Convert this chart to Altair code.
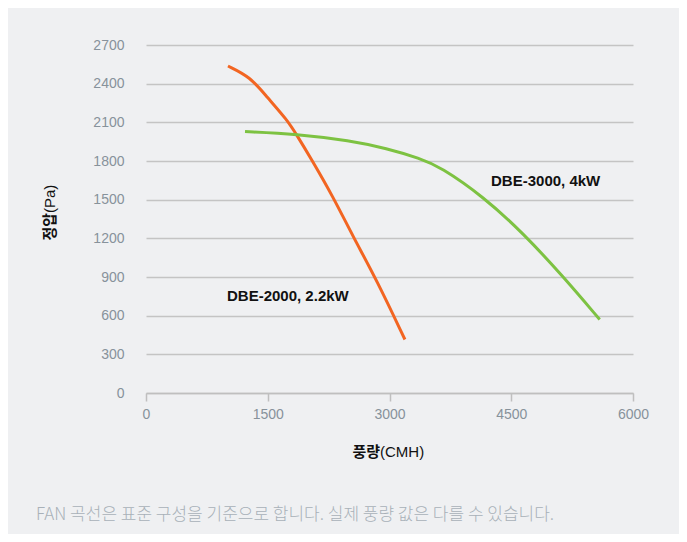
import altair as alt
import pandas as pd

# DBE-2000, 2.2kW (orange)
flow_2000 = [1010, 1281, 1487, 1741, 1857, 2020, 2304, 2550, 2842, 3190]
pres_2000 = [2537, 2454, 2299, 2118, 2002, 1833, 1524, 1214, 877, 415]
# DBE-3000, 4kW (green)
flow_3000 = [1220, 1857, 2513, 2965, 3376, 3622, 4156, 4648, 5141, 5590]
pres_3000 = [2028, 2009, 1958, 1898, 1820, 1756, 1524, 1239, 903, 570]

series_names = ["DBE-2000, 2.2kW", "DBE-3000, 4kW"]
series_colors = ["#f26522", "#7dc242"]
label_flow = [998, 4251]
label_pres = [752, 1641]

x_ticks = [0, 1500, 3000, 4500, 6000]
y_ticks = [0, 300, 600, 900, 1200, 1500, 1800, 2100, 2400, 2700]

footer = "FAN 곡선은 표준 구성을 기준으로 합니다. 실제 풍량 값은 다를 수 있습니다."

rows = []
for i, (f, p) in enumerate(zip(flow_2000, pres_2000)):
    rows.append({"series": series_names[0], "flow": f, "pressure": p, "order": i})
for i, (f, p) in enumerate(zip(flow_3000, pres_3000)):
    rows.append({"series": series_names[1], "flow": f, "pressure": p, "order": i})
df = pd.DataFrame(rows)
labels = pd.DataFrame({"series": series_names, "flow": label_flow, "pressure": label_pres})

xs = alt.Scale(domain=[0, 6000], nice=False)
ys = alt.Scale(domain=[0, 2700], nice=False)
color = alt.Scale(domain=series_names, range=series_colors)

lines = alt.Chart(df).mark_line(strokeWidth=3, interpolate="basis").encode(
    x=alt.X("flow:Q", scale=xs, axis=alt.Axis(
        values=x_ticks, tickCount=len(x_ticks) + 1, format="d", title=None, grid=False,
        domain=True, domainColor="#bfbfbf", domainWidth=1.5, ticks=True,
        tickColor="#bfbfbf", tickWidth=1.5, tickSize=8, labelPadding=6,
        labelFont="Liberation Sans", labelFontSize=14, labelColor="#87929b",
        labelOverlap=False, labelFlush=False)),
    y=alt.Y("pressure:Q", scale=ys, axis=alt.Axis(
        values=y_ticks, tickCount=len(y_ticks) + 1, format="d", title=None, grid=True,
        gridColor="#c4c4c4", gridWidth=1.5, domain=False, ticks=False, labelPadding=22,
        labelFont="Liberation Sans", labelFontSize=14, labelColor="#87929b",
        labelOverlap=False, labelFlush=False)),
    color=alt.Color("series:N", scale=color, legend=None),
    detail="series:N",
    order="order:Q",
)

text = alt.Chart(labels).mark_text(
    align="left", baseline="middle", font="Liberation Sans", fontSize=15,
    fontWeight="bold", color="#111111").encode(
    x=alt.X("flow:Q", scale=xs), y=alt.Y("pressure:Q", scale=ys), text="series:N")

ann_df = pd.DataFrame({"a": [0]})
def ann(txt, x, y, **kw):
    return alt.Chart(ann_df).mark_text(**kw).encode(
        x=alt.value(x), y=alt.value(y), text=alt.value(txt))

xt1 = ann("풍량", 234, 407, align="right", baseline="middle", font="Noto Sans CJK KR",
          fontSize=15, fontWeight="bold", color="#111111")
xt2 = ann("(CMH)", 234, 407, align="left", baseline="middle", font="Liberation Sans",
          fontSize=15, color="#111111")
yt1 = ann("정압", -96, 168, align="right", baseline="middle", angle=270,
          font="Noto Sans CJK KR", fontSize=15, fontWeight="bold", color="#111111")
yt2 = ann("(Pa)", -96, 168, align="left", baseline="middle", angle=270,
          font="Liberation Sans", fontSize=15, color="#111111")
foot = ann(footer, -110, 470, align="left", baseline="middle", font="Noto Sans CJK KR",
           fontSize=17, fontWeight=300, color="#a8b0b8")

chart = alt.layer(lines, text, xt1, xt2, yt1, yt2, foot).properties(
    width=487, height=348,
    autosize=alt.AutoSizeParams(type="none"),
    padding={"left": 138, "top": 37, "right": 46, "bottom": 141},
    background="#eff0f2",
).configure_view(stroke=None)

chart.save("out.html", embed_options={"renderer": "svg", "actions": False})
